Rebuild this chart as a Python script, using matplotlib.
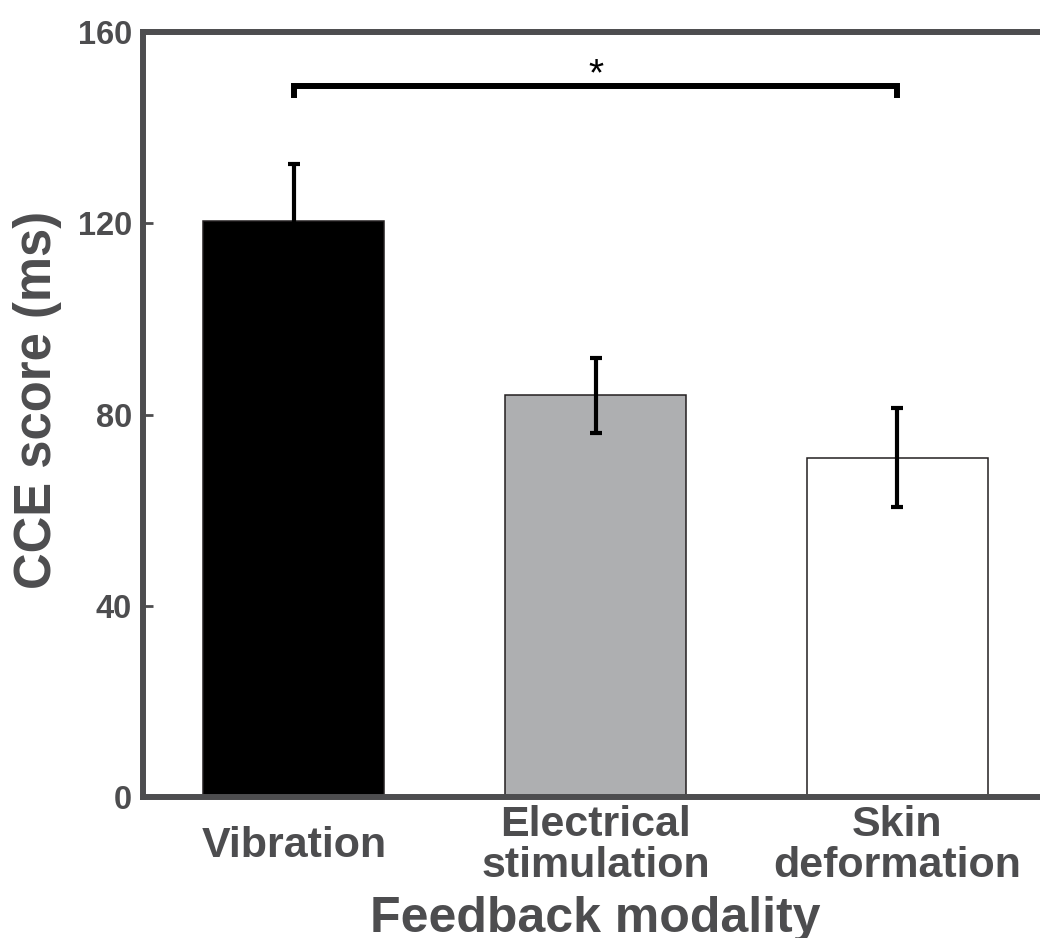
import numpy as np
import matplotlib
matplotlib.use("Agg")
import matplotlib.pyplot as plt

plt.rcParams['font.family'] = ['Liberation Sans', 'DejaVu Sans']

# data
modalities = ['Vibration', 'Electrical\nstimulation', 'Skin\ndeformation']
cce_mean = [120.4, 84.0, 71.0]
cce_err = [11.9, 7.9, 10.3]
bar_colors = ['#000000', '#aeafb1', '#ffffff']
yticks = [0, 40, 80, 120, 160]
sig_pair = (0, 2)
sig_height = 148.7
sig_drop = 1.8

gray = '#4d4d4f'

fig = plt.figure(figsize=(10.4, 9.38), dpi=100)
ax = fig.add_axes([0.1375, 0.1503, 0.8702, 0.8156])

x = np.arange(len(modalities))
ax.bar(x, cce_mean, width=0.6, color=bar_colors, edgecolor='#231f20',
       linewidth=1.1, zorder=2)
ax.errorbar(x, cce_mean, yerr=cce_err, fmt='none', ecolor='black',
            elinewidth=3.0, capsize=4.5, capthick=3.0, zorder=3)

# significance bracket
x0, x1 = sig_pair
ax.plot([x[x0], x[x0], x[x1], x[x1]],
        [sig_height - sig_drop, sig_height, sig_height, sig_height - sig_drop],
        color='black', lw=4.3, solid_joinstyle='miter', zorder=3)
ax.text((x[x0] + x[x1]) / 2, sig_height + 0.2, '*', ha='center',
        va='baseline', fontsize=28, color='black')

ax.set_xlim(-0.5, 2.5)
ax.set_ylim(0, 160)
ax.set_yticks(yticks)
ax.set_xticks(x)
ax.set_xticklabels(modalities, fontsize=31, fontweight='bold', color=gray,
                   linespacing=1.05)
for lab in ax.get_xticklabels():
    lab.set_verticalalignment('center')
ax.set_yticklabels([str(v) for v in yticks], fontsize=23.5, fontweight='bold',
                   color=gray)
ax.tick_params(axis='x', direction='in', length=7, width=2, color=gray, pad=35)
ax.tick_params(axis='y', direction='in', length=7, width=2, color=gray, pad=8)

for side in ['left', 'bottom', 'top', 'right']:
    ax.spines[side].set_linewidth(4.3)
    ax.spines[side].set_color(gray)

ax.set_ylabel('CCE score (ms)', fontsize=36.5, fontweight='bold', color=gray)
ax.yaxis.set_label_coords(-0.090, 0.519)
ax.set_xlabel('Feedback modality', fontsize=36, fontweight='bold', color=gray,
              labelpad=7)

fig.savefig('out.png', dpi=100)
